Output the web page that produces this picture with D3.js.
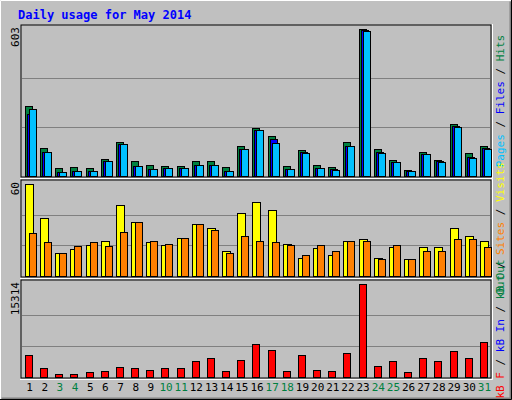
<!DOCTYPE html>
<html><head><meta charset="utf-8">
<script src="https://cdn.jsdelivr.net/npm/d3@7"></script>
<style>body{margin:0;background:#fff}text{font-family:"DejaVu Sans Mono","Liberation Mono",monospace}</style>
</head><body><svg id="chart"></svg>
<script>
const days = d3.range(1, 32);
const weekends = [3, 4, 10, 11, 17, 18, 24, 25, 31];
const hits  = [288,116,34,38,34,71,141,63,46,42,42,63,63,38,124,198,165,42,108,46,38,141,603,112,67,26,100,67,215,96,124];
const files = [256,98,16,21,21,62,131,41,29,33,33,45,45,21,111,189,153,29,98,33,29,123,597,98,57,21,90,62,206,79,115];
const pages = [276,98,16,21,21,62,131,41,29,33,33,45,45,21,111,189,135,29,94,33,25,123,595,94,57,21,90,57,201,74,111];
const visits = [60,38,15,17.5,20,23,46,35,22,20,25,34,31,16,41,48,43,21,12,18,14,23,24,12,19,11,19,19,31,26,23];
const sites  = [28,22,15,19.4,22,19.4,29,35,23,21,25,34,30,15,26,23,22,20,14,20,16,23,23,11,20,11,16,16,24,24,19];
const kbF = [3702,1515,505,505,841,1010,1683,1515,1178,1515,1515,2693,3198,1010,2861,5385,4376,1010,3702,1178,1010,3871,15314,1851,2693,841,3198,2693,4207,3198,5722];

const W = 512, H = 400, left = 21, right = 491;
const svg = d3.select("#chart").attr("width", W).attr("height", H);

svg.append("rect").attr("width", W).attr("height", H).attr("fill", "#c0c0c0");
svg.append("path").attr("d", `M0.5,${H-0.5}V0.5H${W-0.5}`).attr("stroke", "#fff").attr("fill", "none");
svg.append("path").attr("d", `M1.5,${H-1.5}H${W-1.5}V1.5`).attr("stroke", "#808080").attr("stroke-width", 2).attr("fill", "none");
svg.append("path").attr("d", `M${W-0.5},0V${H-0.5}H0`).attr("stroke", "#000").attr("fill", "none");

svg.append("text").attr("x", 18).attr("y", 19).attr("fill", "#0000ff")
  .attr("font-size", 12).attr("font-weight", "bold").text("Daily usage for May 2014");

const x = d3.scaleBand().domain(days).range([left, right]).paddingInner(0);

function panel(top, bottom, max, maxLabel, series, legend) {
  const g = svg.append("g");
  g.append("rect").attr("x", left).attr("y", top).attr("width", right - left).attr("height", bottom - top)
    .attr("fill", "#c0c0c0").attr("stroke", "#000");
  g.append("path").attr("d", `M${left-1},${bottom+1.5}H${right+1.5}V${top-1}`).attr("stroke", "#fff").attr("fill", "none");
  const y = d3.scaleLinear().domain([0, max]).range([bottom - 1, top + 4]);
  [max / 3, 2 * max / 3].forEach(v => {
    g.append("line").attr("x1", left + 1).attr("x2", right - 1)
      .attr("y1", Math.round(y(v)) + 0.5).attr("y2", Math.round(y(v)) + 0.5)
      .attr("stroke", "#808080");
  });
  series.forEach(s => {
    g.selectAll(null).data(s.values).join("rect")
      .attr("x", (d, i) => Math.round(x(days[i])) + 4.5 + s.dx)
      .attr("y", d => Math.round(y(d)) + 0.5)
      .attr("width", s.w)
      .attr("height", d => Math.max(0, Math.round(y(0) - y(d))))
      .attr("fill", s.color).attr("stroke", "#000");
  });
  g.append("text").attr("transform", `translate(19,${top + 2}) rotate(-90)`)
    .attr("text-anchor", "end").attr("font-size", 11).text(maxLabel);
  const t = g.append("text").attr("transform", `translate(504,${(top + bottom) / 2}) rotate(-90)`)
    .attr("text-anchor", "middle").attr("font-size", 11);
  legend.forEach((p, i) => {
    if (i) t.append("tspan").attr("fill", "#000").text(" / ");
    t.append("tspan").attr("fill", p[1]).text(p[0]);
  });
}

panel(25, 177, 603, "603", [
  { values: hits, color: "#008040", dx: 0, w: 7 },
  { values: files, color: "#0000ff", dx: 2, w: 7 },
  { values: pages, color: "#00c0ff", dx: 4, w: 7 }
], [["Pages", "#00c0ff"], ["Files", "#0000ff"], ["Hits", "#008040"]]);

panel(180, 277, 60, "60", [
  { values: visits, color: "#ffff00", dx: 0, w: 8 },
  { values: sites, color: "#ff8000", dx: 4, w: 7 }
], [["Out", "#008040"], ["Sites", "#ff8000"], ["Visits", "#ffff00"]]);

panel(280, 378, 15314, "15314", [
  { values: kbF, color: "#ff0000", dx: 0, w: 7 }
], [["kB F", "#ff0000"], ["kB In", "#0000ff"], ["kB Out", "#008040"]]);

svg.selectAll(".day").data(days).join("text")
  .attr("x", d => x(d) + x.bandwidth() / 2 + 1)
  .attr("y", 391).attr("text-anchor", "middle").attr("font-size", 11)
  .attr("fill", d => weekends.includes(d) ? "#008040" : "#000").text(d => d);
</script></body></html>
